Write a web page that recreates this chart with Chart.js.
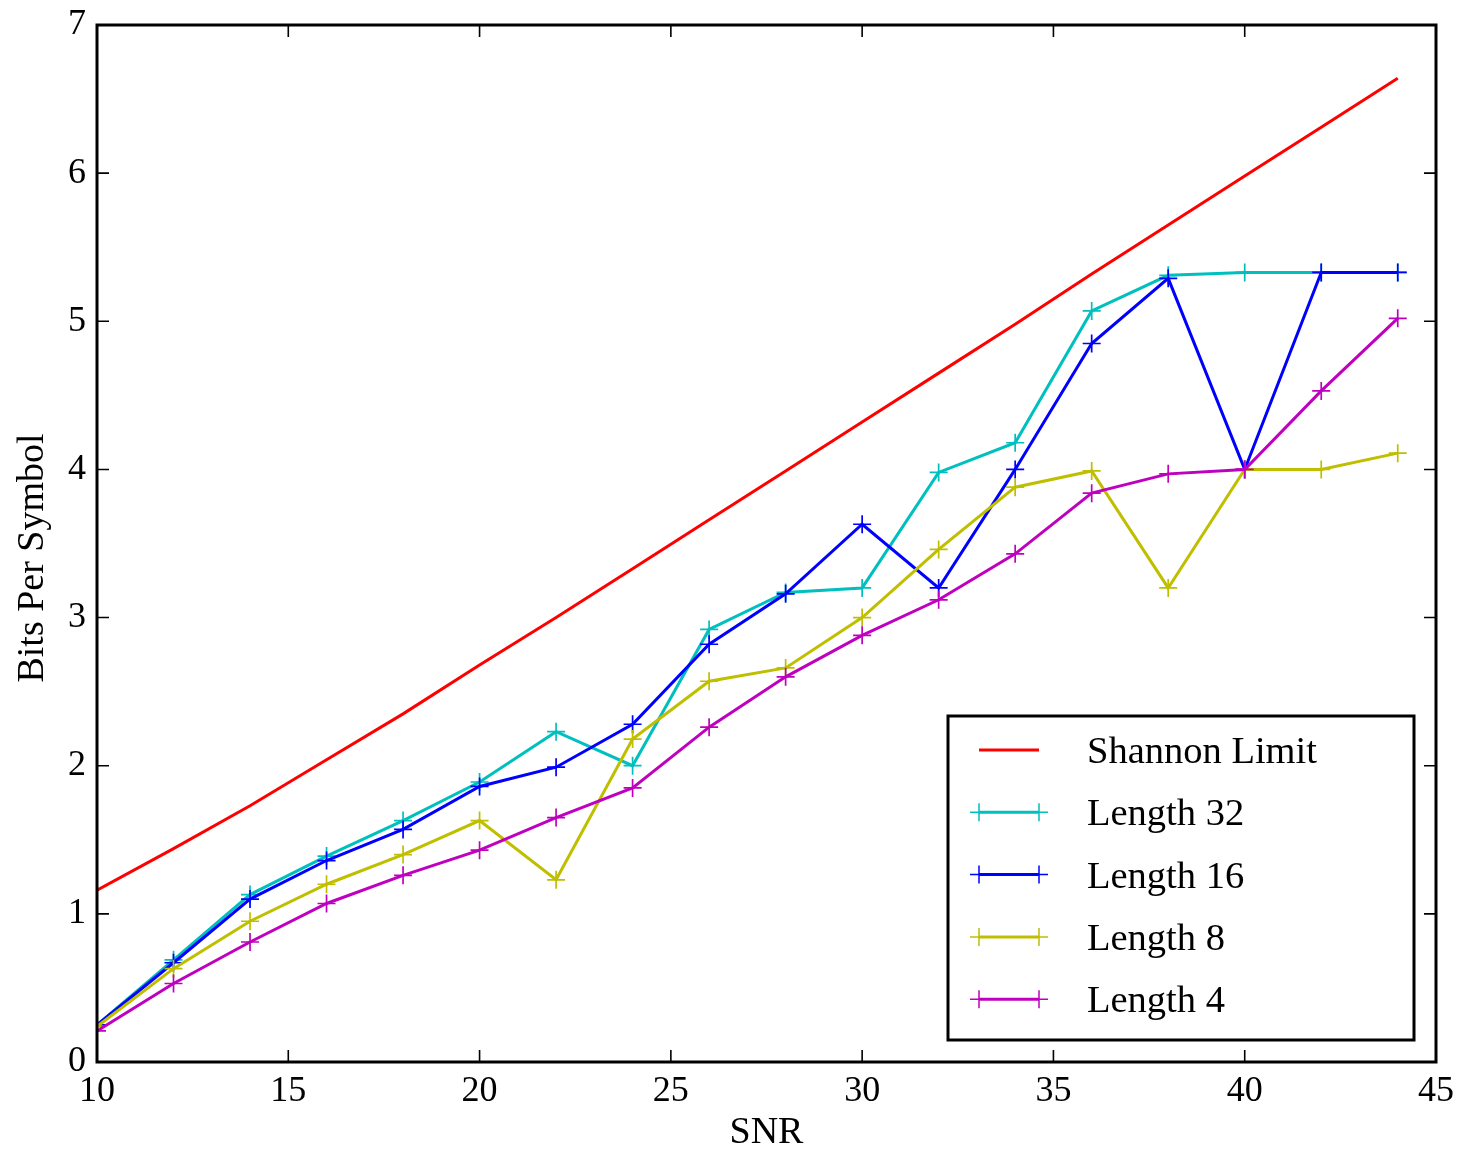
<!DOCTYPE html>
<html>
<head>
<meta charset="utf-8">
<title>Bits per symbol vs SNR</title>
<script src="https://cdn.jsdelivr.net/npm/chart.js@4.4.1/dist/chart.umd.min.js"></script>
<style>
  html, body { margin: 0; padding: 0; background: #fff; }
  #wrap { width: 1459px; height: 1150px; position: relative; }
</style>
</head>
<body>
<div id="wrap"><canvas id="snrChart"></canvas></div>
<script>
// SNR sweep (dB) and achieved bits per symbol for each code length
const snr = [10, 12, 14, 16, 18, 20, 22, 24, 26, 28, 30, 32, 34, 36, 38, 40, 42, 44];
const shannon = [1.16, 1.44, 1.73, 2.04, 2.35, 2.68, 3.00, 3.33, 3.66, 3.99, 4.32, 4.65, 4.98, 5.32, 5.65, 5.98, 6.31, 6.64];
const len32 = [0.25, 0.69, 1.13, 1.39, 1.63, 1.89, 2.23, 2.00, 2.92, 3.17, 3.20, 3.98, 4.18, 5.07, 5.31, 5.33, 5.33, 5.33];
const len16 = [0.25, 0.67, 1.10, 1.36, 1.57, 1.86, 1.99, 2.28, 2.82, 3.16, 3.63, 3.20, 4.00, 4.85, 5.29, 4.00, 5.33, 5.33];
const len8 = [0.24, 0.63, 0.95, 1.20, 1.40, 1.63, 1.23, 2.18, 2.57, 2.66, 3.00, 3.46, 3.88, 3.99, 3.20, 4.00, 4.00, 4.11];
const len4 = [0.21, 0.53, 0.81, 1.07, 1.26, 1.43, 1.65, 1.85, 2.26, 2.60, 2.88, 3.12, 3.43, 3.84, 3.97, 4.00, 4.53, 5.02];

const xTicks = [10, 15, 20, 25, 30, 35, 40, 45];
const yTicks = [0, 1, 2, 3, 4, 5, 6, 7];

const serif = '"Liberation Serif", "Times New Roman", Times, serif';
Chart.defaults.font.family = serif;
Chart.defaults.color = '#000';

function toPoints(values) {
    return snr.map((x, i) => ({ x: x, y: values[i] }));
}

// later series sit on top, so they get a lower draw order
function series(label, values, color, withMarkers, order) {
    return {
        label: label,
        data: toPoints(values),
        borderColor: color,
        backgroundColor: color,
        borderWidth: 3,
        pointStyle: 'cross',
        pointRadius: withMarkers ? 9 : 0,
        pointHoverRadius: withMarkers ? 9 : 0,
        pointBorderWidth: 1.7,
        pointBorderColor: color,
        tension: 0,
        fill: false,
        showMarkers: withMarkers,
        order: order,
    };
}

// boxed frame with inward ticks, rotated y title and a boxed legend
const framePlugin = {
    id: 'frame',
    afterDraw(chart) {
        const { ctx, chartArea: a, scales } = chart;
        const tick = 12;
        ctx.save();
        ctx.strokeStyle = '#000';
        ctx.lineWidth = 1.6;
        ctx.beginPath();
        xTicks.forEach(v => {
            const px = scales.x.getPixelForValue(v);
            ctx.moveTo(px, a.bottom); ctx.lineTo(px, a.bottom - tick);
            ctx.moveTo(px, a.top); ctx.lineTo(px, a.top + tick);
        });
        yTicks.forEach(v => {
            const py = scales.y.getPixelForValue(v);
            ctx.moveTo(a.left, py); ctx.lineTo(a.left + tick, py);
            ctx.moveTo(a.right, py); ctx.lineTo(a.right - tick, py);
        });
        ctx.stroke();

        ctx.lineWidth = 3;
        ctx.strokeRect(a.left, a.top, a.right - a.left, a.bottom - a.top);

        // y axis title
        ctx.save();
        ctx.translate(43, 558);
        ctx.rotate(-Math.PI / 2);
        ctx.font = '38px ' + serif;
        ctx.fillStyle = '#000';
        ctx.textAlign = 'center';
        ctx.textBaseline = 'alphabetic';
        ctx.fillText('Bits Per Symbol', 0, 0);
        ctx.restore();

        // legend box in the lower right corner
        const bw = 466, bh = 324;
        const bx = a.right - 22 - bw, by = a.bottom - 22 - bh;
        ctx.fillStyle = '#fff';
        ctx.fillRect(bx, by, bw, bh);
        ctx.lineWidth = 3;
        ctx.strokeRect(bx, by, bw, bh);

        ctx.font = '38.5px ' + serif;
        ctx.textAlign = 'left';
        ctx.textBaseline = 'middle';
        chart.data.datasets.forEach((ds, i) => {
            const ry = by + 34 + i * 62.3;
            const x1 = bx + 31, x2 = bx + 91;
            ctx.strokeStyle = ds.borderColor;
            ctx.lineWidth = 3;
            ctx.beginPath();
            ctx.moveTo(x1, ry); ctx.lineTo(x2, ry);
            ctx.stroke();
            if (ds.showMarkers) {
                ctx.lineWidth = 1.5;
                ctx.beginPath();
                [x1, x2].forEach(mx => {
                    ctx.moveTo(mx - 9, ry); ctx.lineTo(mx + 9, ry);
                    ctx.moveTo(mx, ry - 9); ctx.lineTo(mx, ry + 9);
                });
                ctx.stroke();
            }
            ctx.fillStyle = '#000';
            ctx.fillText(ds.label, bx + 139, ry + 3);
        });
        ctx.restore();
    }
};

const ctx = document.getElementById('snrChart').getContext('2d');
new Chart(ctx, {
    type: 'line',
    data: {
        datasets: [
            series('Shannon Limit', shannon, '#ff0000', false, 5),
            series('Length 32', len32, '#00bfbf', true, 4),
            series('Length 16', len16, '#0000ff', true, 3),
            series('Length 8', len8, '#bfbf00', true, 2),
            series('Length 4', len4, '#bf00bf', true, 1),
        ],
    },
    options: {
        responsive: true,
        maintainAspectRatio: false,
        animation: false,
        events: [],
        layout: { padding: { left: 0, top: 25, right: 23, bottom: 0 } },
        plugins: {
            legend: { display: false },
            tooltip: { enabled: false },
        },
        scales: {
            x: {
                type: 'linear',
                min: 10,
                max: 45,
                afterBuildTicks: s => { s.ticks = xTicks.map(v => ({ value: v })); },
                afterFit: s => { s.height = 88; s.paddingLeft = 0; s.paddingRight = 0; },
                grid: { display: false, drawTicks: false },
                border: { display: false },
                ticks: { font: { size: 36 }, padding: 8, color: '#000', maxRotation: 0 },
                title: {
                    display: true,
                    text: 'SNR',
                    font: { size: 38 },
                    color: '#000',
                    padding: { top: 0, bottom: -6 },
                },
            },
            y: {
                type: 'linear',
                min: 0,
                max: 7,
                afterBuildTicks: s => { s.ticks = yTicks.map(v => ({ value: v })); },
                afterFit: s => { s.width = 97; s.paddingTop = 0; s.paddingBottom = 0; },
                grid: { display: false, drawTicks: false },
                border: { display: false },
                ticks: { font: { size: 36 }, padding: 11, color: '#000' },
            },
        },
    },
    plugins: [framePlugin],
});
</script>
</body>
</html>
